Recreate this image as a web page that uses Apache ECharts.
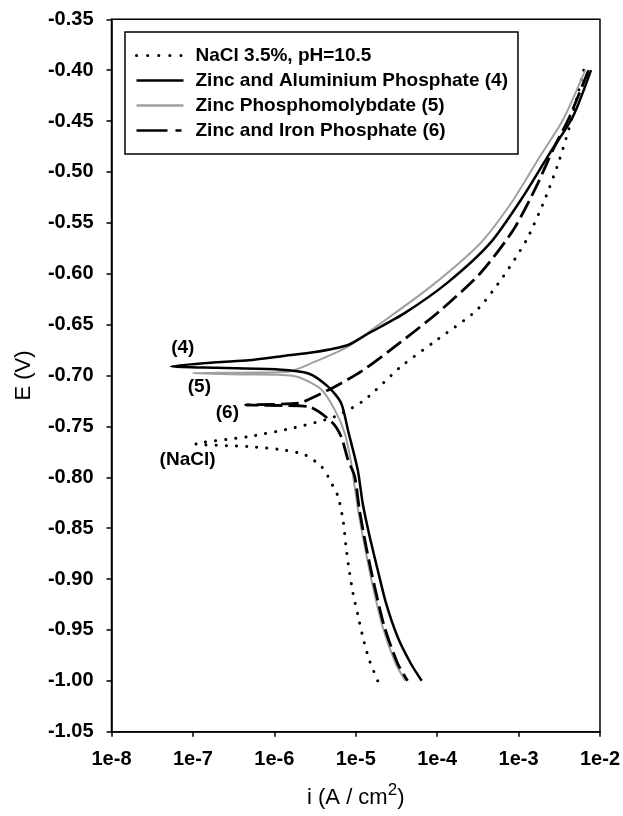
<!DOCTYPE html>
<html>
<head>
<meta charset="utf-8">
<script src="https://cdn.jsdelivr.net/npm/echarts@6/dist/echarts.min.js"></script>
<style>
html,body{margin:0;padding:0;background:#fff;}
#chart{width:623px;height:816px;}
</style>
</head>
<body>
<div id="chart"></div>
<script>
// ---- data (i in A/cm2, E in V) ----
var seriesNames = ['NaCl 3.5%, pH=10.5', 'Zinc and Aluminium Phosphate (4)', 'Zinc Phosphomolybdate (5)', 'Zinc and Iron Phosphate (6)'];
var xTickLabels = ['1e-8','1e-7','1e-6','1e-5','1e-4','1e-3','1e-2'];

var naclI = [6.31e-3,4.22e-3,3.18e-3,2.09e-3,1.25e-3,6.46e-4,3.08e-4,9.55e-5,3.58e-5,1.28e-5,5.53e-6,1.64e-6,4.86e-7,1.09e-7,4.86e-7,1.24e-6,2.39e-6,3.80e-6,4.59e-6,5.28e-6,6.07e-6,6.98e-6,7.66e-6,8.41e-6,9.25e-6,1.06e-5,1.22e-5,1.44e-5,1.86e-5];
var naclE = [-0.400,-0.4555,-0.488,-0.5275,-0.5668,-0.6029,-0.6356,-0.666,-0.6913,-0.724,-0.7404,-0.7518,-0.760,-0.7672,-0.7698,-0.773,-0.778,-0.7895,-0.7996,-0.809,-0.819,-0.842,-0.871,-0.894,-0.914,-0.935,-0.9565,-0.9777,-1.000];

var alI = [7.76e-3,4.63e-3,2.40e-3,1.14e-3,4.47e-4,1.33e-4,3.94e-5,1.41e-5,8.04e-6,3.16e-6,1.23e-6,4.86e-7,1.91e-7,5.37e-8,2.0e-7,1.12e-6,2.63e-6,4.57e-6,6.61e-6,8.04e-6,1.06e-5,1.22e-5,1.48e-5,1.86e-5,2.36e-5,3.27e-5,4.74e-5,6.46e-5];
var alE = [-0.400,-0.446,-0.482,-0.524,-0.570,-0.609,-0.639,-0.659,-0.670,-0.677,-0.681,-0.685,-0.687,-0.691,-0.6925,-0.694,-0.698,-0.711,-0.727,-0.754,-0.793,-0.826,-0.858,-0.891,-0.924,-0.957,-0.983,-1.000];

var moI = [6.61e-3,3.50e-3,1.82e-3,8.61e-4,3.39e-4,8.32e-5,1.78e-5,8.04e-6,3.16e-6,1.49e-6,3.98e-7,1.0e-7,3.98e-7,1.24e-6,2.0e-6,3.80e-6,5.53e-6,7.33e-6,8.81e-6,9.33e-6,1.07e-5,1.29e-5,1.62e-5,2.14e-5,3.09e-5,4.07e-5];
var moE = [-0.400,-0.449,-0.485,-0.5275,-0.570,-0.6127,-0.652,-0.6716,-0.6864,-0.6962,-0.6972,-0.6977,-0.699,-0.6994,-0.7017,-0.714,-0.7338,-0.7567,-0.786,-0.800,-0.832,-0.868,-0.907,-0.947,-0.983,-1.000];

var feI = [7.24e-3,4.22e-3,2.65e-3,1.66e-3,8.61e-4,3.39e-4,1.10e-4,3.59e-5,1.17e-5,5.53e-6,3.02e-6,1.98e-6,4.44e-7,1.26e-6,2.63e-6,5.01e-6,6.61e-6,8.04e-6,9.70e-6,1.11e-5,1.34e-5,1.70e-5,2.25e-5,3.27e-5,4.33e-5];
var feE = [-0.400,-0.446,-0.478,-0.514,-0.557,-0.5995,-0.636,-0.667,-0.696,-0.711,-0.7213,-0.7272,-0.7289,-0.7295,-0.7306,-0.7453,-0.760,-0.783,-0.799,-0.832,-0.868,-0.907,-0.947,-0.983,-1.000];

// curve labels [text, i, E]
var curveLabels = [['(NaCl)', 8.6e-8, -0.783], ['(4)', 7.5e-8, -0.6732], ['(5)', 1.2e-7, -0.7109], ['(6)', 2.65e-7, -0.737]];

function pairs(xs, ys){ return xs.map(function(x,k){ return [x, ys[k]]; }); }

var FONT = 'Liberation Sans, Arial, sans-serif';
function mk(lbl){
  return {
    symbol: 'circle', symbolSize: 0, silent: true,
    label: {show: true, position: 'inside', formatter: lbl[0], color: '#000', fontFamily: FONT, fontWeight: 'bold', fontSize: 19},
    data: [{coord: [lbl[1], lbl[2]]}]
  };
}
var noSym = {opacity: 0, color: 'rgba(0,0,0,0)', borderWidth: 0};

var chart = echarts.init(document.getElementById('chart'), null, {renderer: 'canvas'});
var option = {
  animation: false,
  backgroundColor: '#fff',
  grid: {left: 111.5, right: 19, top: 19.3, bottom: 84.3, show: true, borderColor: '#000', borderWidth: 1.5, containLabel: false},
  legend: {
    orient: 'vertical', left: 125, top: 32,
    padding: [14, 10, 14, 10],
    itemWidth: 47, itemHeight: 14, itemGap: 6,
    borderColor: '#000', borderWidth: 1.5,
    textStyle: {fontFamily: FONT, fontSize: 19, fontWeight: 'bold', color: '#000', padding: [0,0,0,7]},
    data: [
      {name: seriesNames[0], itemStyle: noSym, lineStyle: {color: '#000', width: 3, type: [0.1, 11], cap: 'round'}},
      {name: seriesNames[1], itemStyle: noSym, lineStyle: {color: '#000', width: 2.5, type: 'solid'}},
      {name: seriesNames[2], itemStyle: noSym, lineStyle: {color: '#a0a0a0', width: 2.5, type: 'solid'}},
      {name: seriesNames[3], itemStyle: noSym, lineStyle: {color: '#000', width: 2.5, type: [31, 8, 6, 100]}}
    ]
  },
  xAxis: {
    type: 'log', logBase: 10, min: 1e-8, max: 1e-2, splitNumber: 6,
    name: '{a|i (A / cm}{s|2}{a|)}', nameLocation: 'middle', nameGap: 50,
    nameTextStyle: {rich: {a: {fontFamily: FONT, fontSize: 22, color: '#000', verticalAlign: 'bottom'}, s: {fontFamily: FONT, fontSize: 17, color: '#000', verticalAlign: 'top', padding: [0,0,10,0]}}},
    axisLine: {lineStyle: {color: '#000', width: 1.5}},
    axisTick: {inside: false, length: 5, lineStyle: {color: '#000', width: 1.5}},
    minorTick: {show: false},
    splitLine: {show: false},
    axisLabel: {margin: 18, fontFamily: FONT, fontSize: 20, fontWeight: 'bold', color: '#000',
      formatter: function(v){ var k = Math.round(Math.log10(v)) + 8; return xTickLabels[k] || ''; }}
  },
  yAxis: {
    type: 'value', min: -1.05, max: -0.35, interval: 0.05,
    name: 'E (V)', nameLocation: 'middle', nameGap: 77,
    nameTextStyle: {fontFamily: FONT, fontSize: 22, color: '#000'},
    axisLine: {show: true, lineStyle: {color: '#000', width: 1.5}},
    axisTick: {show: true, inside: false, length: 5, lineStyle: {color: '#000', width: 1.5}},
    splitLine: {show: false},
    axisLabel: {margin: 18, fontFamily: FONT, fontSize: 20, fontWeight: 'bold', color: '#000',
      formatter: function(v){ return v.toFixed(2); }}
  },
  series: [
    {name: seriesNames[0], type: 'line', data: pairs(naclI, naclE), symbol: 'none', smooth: 0.25,
     lineStyle: {color: '#000', width: 3, type: [0.1, 10], cap: 'round'}, itemStyle: {color: '#000'}, z: 2, markPoint: mk(curveLabels[0])},
    {name: seriesNames[1], type: 'line', data: pairs(alI, alE), symbol: 'none', smooth: 0.25,
     lineStyle: {color: '#000', width: 2.5}, itemStyle: {color: '#000'}, z: 4, markPoint: mk(curveLabels[1])},
    {name: seriesNames[2], type: 'line', data: pairs(moI, moE), symbol: 'none', smooth: 0.25,
     lineStyle: {color: '#a0a0a0', width: 2}, itemStyle: {color: '#a0a0a0'}, z: 3, markPoint: mk(curveLabels[2])},
    {name: seriesNames[3], type: 'line', data: pairs(feI, feE), symbol: 'none', smooth: 0.25,
     lineStyle: {color: '#000', width: 2.8, type: [18, 6]}, itemStyle: {color: '#000'}, z: 3, markPoint: mk(curveLabels[3])}
  ]
};
chart.setOption(option);
</script>
</body>
</html>
